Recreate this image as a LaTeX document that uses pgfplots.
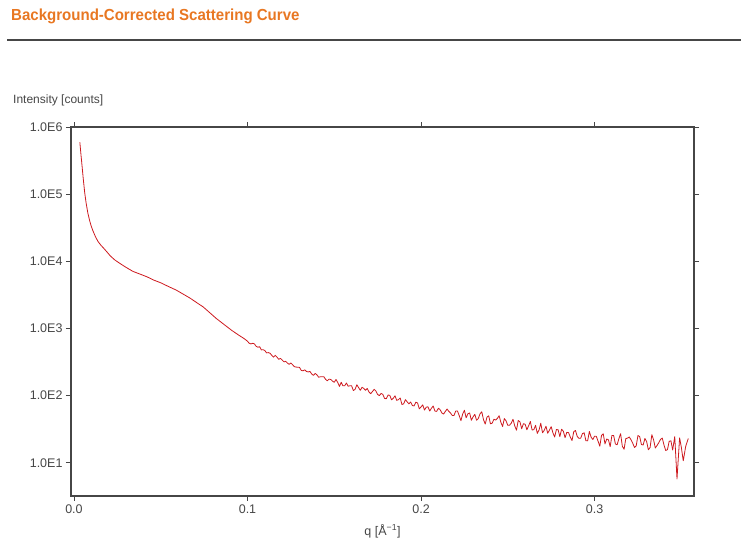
\documentclass[border=0pt]{standalone}
\usepackage{pgfplots}
\pgfplotsset{compat=1.18}
\usepackage{fontspec}
\setmainfont{Liberation Sans}
\newfontfamily\titlefont[FakeStretch=0.94]{Liberation Sans}
\definecolor{titleor}{RGB}{232,119,34}
\definecolor{axgray}{RGB}{70,70,70}
\definecolor{curvered}{RGB}{205,25,30}
\begin{document}
\begin{tikzpicture}
\path[use as bounding box] (0pt,0pt) rectangle (741pt,547pt);
\node[anchor=base west, inner sep=0, text=titleor, font=\titlefont\fontsize{16}{19}\selectfont\bfseries] at (11pt,526pt) {Background-Corrected Scattering Curve};
\draw[axgray, line width=1.6pt] (7pt,507pt) -- (741pt,507pt);
\node[anchor=base west, inner sep=0, text=axgray, font=\fontsize{12}{14}\selectfont] at (13pt,443pt) {Intensity [counts]};
\begin{axis}[at={(71pt,51pt)}, anchor=south west, width=623pt, height=369pt, scale only axis,
 xmin=-0.0017, xmax=0.3573, ymode=log, ymin=3.2, ymax=1e6,
 xtick={0,0.1,0.2,0.3}, xticklabels={0.0,0.1,0.2,0.3},
 ytick={10,100,1000,10000,100000,1000000},
 yticklabels={1.0E1,1.0E2,1.0E3,1.0E4,1.0E5,1.0E6},
 xminorticks=false, yminorticks=false,
 tick align=outside, major tick length=5pt,
 axis line style={axgray, line width=1.2pt},
 tick style={axgray, line width=0.8pt},
 ticklabel style={font=\fontsize{12.5}{14}\selectfont, text=axgray},
 /pgf/number format/assume math mode=true,
 xlabel={q [Å\textsuperscript{−1}]},
 xlabel style={font=\fontsize{12.5}{14}\selectfont, text=axgray, at={(axis description cs:0.5,0)}, anchor=base, yshift=-39pt},
]
\addplot[curvered, line width=0.8pt, line join=round, mark=none] coordinates {
(0.0034,589000) (0.0040,398000) (0.0046,275000) (0.0054,166000) (0.0062,105000)
(0.0070,74100) (0.0080,52500) (0.0090,40700) (0.0100,33100) (0.0110,28200)
(0.0125,22900) (0.0140,19500) (0.0155,17400) (0.0170,15800) (0.0190,13800)
(0.0210,12000) (0.0235,10500) (0.0264,9330) (0.030,8130) (0.034,7080)
(0.038,6460) (0.042,5890) (0.046,5250) (0.050,4790) (0.054,4270)
(0.059,3720) (0.063,3240) (0.067,2820) (0.071,2400) (0.0745,2090)
(0.078,1740) (0.082,1410) (0.0855,1200) (0.088,1070) (0.091,933)
(0.095,794) (0.098,708)
(0.100,646) (0.101,601) (0.102,589) (0.103,602) (0.104,589) (0.105,542)
(0.106,525) (0.107,535) (0.108,479) (0.109,483) (0.110,468) (0.111,433)
(0.112,437) (0.113,427) (0.114,398) (0.115,374) (0.116,398) (0.117,374)
(0.118,347) (0.119,358) (0.120,339) (0.121,318) (0.122,324) (0.123,306)
(0.124,292) (0.125,306) (0.126,288) (0.127,270) (0.128,266) (0.129,265)
(0.130,263) (0.131,237) (0.132,234) (0.133,242) (0.134,229) (0.135,225)
(0.136,229) (0.137,210) (0.138,200) (0.139,214) (0.140,204) (0.141,188)
(0.142,191) (0.143,191) (0.144,191) (0.145,175) (0.146,166) (0.147,176)
(0.148,174) (0.149,164) (0.150,158) (0.151,174) (0.152,157) (0.153,137)
(0.154,158) (0.155,140) (0.156,140) (0.157,154) (0.158,138) (0.159,140)
(0.160,140) (0.161,119) (0.162,124) (0.163,145) (0.164,132) (0.165,120)
(0.166,133) (0.167,128) (0.168,120) (0.169,128) (0.170,113) (0.171,107)
(0.172,115) (0.173,124) (0.174,117) (0.175,104) (0.176,100) (0.177,108)
(0.178,104) (0.179,90.7) (0.180,89.9) (0.181,102) (0.182,101) (0.183,86.6)
(0.184,91.2) (0.185,99.4) (0.186,84.9) (0.187,87.1) (0.188,92.3) (0.189,73.7)
(0.190,75.5) (0.191,87.1) (0.192,80.9) (0.193,75.4) (0.194,80.4) (0.195,71.2)
(0.196,70.1) (0.197,79.9) (0.198,77.8) (0.199,63.5) (0.200,67.9) (0.201,72.9)
(0.202,61.0) (0.203,67.2) (0.204,68.2) (0.205,58.9) (0.206,64.9) (0.207,70.0)
(0.208,58.9) (0.209,58.2) (0.210,64.9) (0.211,61.7) (0.212,55.2) (0.213,53.1)
(0.214,58.1) (0.215,63.1) (0.216,58.3) (0.217,55.0) (0.218,50.6) (0.219,50.7)
(0.220,58.9) (0.221,58.9) (0.222,50.4) (0.223,42.4) (0.224,53.3) (0.225,60.5)
(0.226,46.7) (0.227,53.6) (0.228,55.2) (0.229,42.9) (0.230,48.3) (0.231,52.6)
(0.232,42.9) (0.233,45.6) (0.234,53.6) (0.235,57.5) (0.236,43.8) (0.237,37.7)
(0.238,47.9) (0.239,50.0) (0.240,38.0) (0.241,38.9) (0.242,44.5) (0.243,43.3)
(0.244,45.8) (0.245,50.2) (0.246,40.1) (0.247,34.7) (0.248,45.5) (0.249,42.0)
(0.250,36.1) (0.251,36.2) (0.252,38.9) (0.253,44.5) (0.254,35.5) (0.255,30.5)
(0.256,42.7) (0.257,40.7) (0.258,32.1) (0.259,38.2) (0.260,37.5) (0.261,31.0)
(0.262,35.6) (0.263,41.1) (0.264,30.8) (0.265,31.1) (0.266,36.1) (0.267,27.4)
(0.268,30.7) (0.269,38.9) (0.270,28.0) (0.271,30.4) (0.272,35.0) (0.273,27.5)
(0.274,30.6) (0.275,34.5) (0.276,27.9) (0.277,24.2) (0.278,31.3) (0.279,31.0)
(0.280,24.5) (0.281,31.6) (0.282,29.5) (0.283,23.7) (0.284,28.4) (0.285,28.1)
(0.286,24.2) (0.287,21.4) (0.288,29.0) (0.289,30.3) (0.290,24.7) (0.291,23.1)
(0.292,23.2) (0.293,27.2) (0.294,27.9) (0.295,21.3) (0.296,21.2) (0.297,29.2)
(0.298,24.1) (0.299,22.2) (0.300,24.9) (0.301,24.8) (0.302,21.0) (0.303,17.6)
(0.304,25.5) (0.305,27.0) (0.306,19.1) (0.307,22.6) (0.308,21.9) (0.309,17.4)
(0.310,25.5) (0.311,25.4) (0.312,19.1) (0.313,18.5) (0.314,22.8) (0.315,27.1)
(0.316,17.6) (0.317,15.9) (0.318,22.9) (0.319,23.3) (0.320,24.2) (0.321,22.0)
(0.322,19.5) (0.323,16.9) (0.324,17.9) (0.325,25.5) (0.326,24.5) (0.327,18.7)
(0.328,18.4) (0.329,23.0) (0.330,20.7) (0.331,15.6) (0.332,16.9) (0.333,26.2)
(0.334,22.0) (0.335,16.6) (0.336,18.1) (0.337,19.9) (0.338,22.3) (0.339,23.3)
(0.340,18.4) (0.341,15.2) (0.342,15.7) (0.343,20.9) (0.344,21.2) (0.345,15.5)
(0.3462,24.5) (0.3475,5.75) (0.3490,23.5) (0.3500,17.0) (0.3511,10.7)
(0.3525,17.5) (0.354,23.0)
};
\end{axis}
\end{tikzpicture}
\end{document}
